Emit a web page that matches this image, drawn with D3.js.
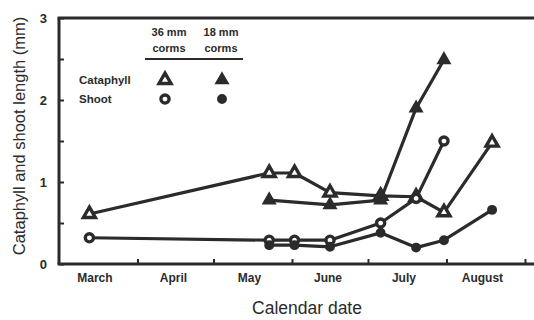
<!DOCTYPE html>
<html>
<head>
<meta charset="utf-8">
<script src="https://cdn.jsdelivr.net/npm/d3@7"></script>
<style>
  body { margin: 0; background: #fff; }
  svg { display: block; font-family: "Liberation Sans", Arial, sans-serif; }
  .tick text { font-weight: bold; fill: #2b2b2b; }
</style>
</head>
<body>
<script>
// Chart Params
var svgWidth = 534;
var svgHeight = 320;

var margin = { top: 18, right: 0, bottom: 56, left: 59 };

var width = svgWidth - margin.left - margin.right;
var height = svgHeight - margin.top - margin.bottom;

var ink = "#2b2b2b";

// sampling dates (same year for every series)
var dates = ["2001-03-13", "2001-05-23", "2001-06-02", "2001-06-16", "2001-07-06", "2001-07-20", "2001-07-31", "2001-08-19"];

// lengths (mm), null = not sampled
var cataphyll36 = [0.61, 1.11, 1.11, 0.87, 0.83, 0.82, 0.63, 1.48];
var cataphyll18 = [null, 0.78, null, 0.72, 0.78, 1.90, 2.49, null];
var shoot36 = [0.32, 0.29, 0.29, 0.29, 0.50, 0.80, 1.50, null];
var shoot18 = [null, 0.23, 0.23, 0.21, 0.38, 0.20, 0.29, 0.66];

// axis labels
var monthLabels = ["March", "April", "May", "June", "July", "August"];
var yTickLabels = [0, 1, 2, 3];

var parse = d3.timeParse("%Y-%m-%d");

var series = [
  { name: "Cataphyll 36", values: cataphyll36, shape: "triangle", open: true },
  { name: "Cataphyll 18", values: cataphyll18, shape: "triangle", open: false },
  { name: "Shoot 36", values: shoot36, shape: "circle", open: true },
  { name: "Shoot 18", values: shoot18, shape: "circle", open: false }
];

var svg = d3
  .select("body")
  .append("svg")
  .attr("width", svgWidth)
  .attr("height", svgHeight);

var chartGroup = svg.append("g")
  .attr("transform", `translate(${margin.left}, ${margin.top})`);

// scales
var xScale = d3.scaleTime()
  .domain([new Date(2001, 2, 1), new Date(2001, 8, 1)])
  .range([0, 466]);

var yScale = d3.scaleLinear()
  .domain([0, 3])
  .range([height, 0]);

// frame lines: left, top, bottom
chartGroup.append("line")
  .attr("x1", 0).attr("x2", 0).attr("y1", 0).attr("y2", height)
  .attr("stroke", ink).attr("stroke-width", 3);
chartGroup.append("line")
  .attr("x1", -1.5).attr("x2", width).attr("y1", 0).attr("y2", 0)
  .attr("stroke", ink).attr("stroke-width", 3);
chartGroup.append("line")
  .attr("x1", -1.5).attr("x2", width).attr("y1", height).attr("y2", height)
  .attr("stroke", ink).attr("stroke-width", 3);

// x axis: ticks at month starts, labels mid month
var xAxis = d3.axisBottom(xScale)
  .ticks(d3.timeMonth.every(1))
  .tickSizeInner(-5)
  .tickSizeOuter(0)
  .tickFormat("");

var xg = chartGroup.append("g")
  .attr("transform", `translate(0, ${height})`)
  .call(xAxis);
xg.select(".domain").remove();
xg.selectAll(".tick line").attr("stroke", ink).attr("stroke-width", 2);
xg.selectAll(".tick").filter(d => d.getMonth() === 2).remove();

var xLabelAxis = d3.axisBottom(xScale)
  .tickValues(monthLabels.map((m, i) => new Date(2001, 2 + i, 15)))
  .tickSize(0)
  .tickPadding(9)
  .tickFormat((d, i) => monthLabels[i]);

var xl = chartGroup.append("g")
  .attr("transform", `translate(0, ${height})`)
  .call(xLabelAxis);
xl.select(".domain").remove();
xl.selectAll("text").attr("font-size", 12);

// y axis: minor ticks every 0.5, labels on whole numbers
var yAxis = d3.axisLeft(yScale)
  .tickValues(d3.range(0, 3.01, 0.5))
  .tickSizeInner(-5)
  .tickSizeOuter(0)
  .tickPadding(12)
  .tickFormat(d => yTickLabels.indexOf(d) >= 0 ? d : "");

var yg = chartGroup.append("g").call(yAxis);
yg.select(".domain").remove();
yg.selectAll(".tick line").attr("stroke", ink).attr("stroke-width", 2);
yg.selectAll("text").attr("font-size", 13);

// lines
var line = d3.line()
  .x(d => xScale(d.date))
  .y(d => yScale(d.v));

series.forEach(function(s) {
  var pts = s.values.map((v, i) => ({ date: parse(dates[i]), v: v }))
    .filter(d => d.v !== null);
  s.pts = pts;
  chartGroup.append("path")
    .datum(pts)
    .attr("d", line)
    .attr("fill", "none")
    .attr("stroke", ink)
    .attr("stroke-width", 3.2)
    .attr("stroke-linejoin", "round");
});

// markers
function drawMarker(g, shape, open) {
  var sym = shape === "triangle" ? d3.symbolTriangle : d3.symbolCircle;
  g.append("path")
    .attr("d", d3.symbol().type(sym).size(shape === "triangle" ? 62 : 52))
    .attr("fill", open ? "#fff" : ink)
    .attr("stroke", ink)
    .attr("stroke-width", open ? 3.4 : 1.8);
}

series.forEach(function(s) {
  chartGroup.selectAll(null)
    .data(s.pts)
    .enter()
    .append("g")
    .attr("transform", d => `translate(${xScale(d.date)}, ${yScale(d.v)})`)
    .each(function() { drawMarker(d3.select(this), s.shape, s.open); });
});

// legend
var legend = svg.append("g");
var colX = [169, 221];
var markX = [165, 222];
var headTop = ["36 mm", "18 mm"];
colX.forEach(function(x, i) {
  legend.append("text").attr("x", x).attr("y", 36)
    .attr("text-anchor", "middle").attr("font-size", 11).attr("font-weight", "bold")
    .attr("fill", ink).text(headTop[i]);
  legend.append("text").attr("x", x).attr("y", 52)
    .attr("text-anchor", "middle").attr("font-size", 11).attr("font-weight", "bold")
    .attr("fill", ink).text("corms");
});
legend.append("line")
  .attr("x1", 145).attr("x2", 243).attr("y1", 59).attr("y2", 59)
  .attr("stroke", ink).attr("stroke-width", 2);

var rows = [
  { label: "Cataphyll", y: 80, items: [series[0], series[1]] },
  { label: "Shoot", y: 99, items: [series[2], series[3]] }
];
rows.forEach(function(r) {
  legend.append("text").attr("x", 79).attr("y", r.y + 4)
    .attr("font-size", 11.5).attr("font-weight", "bold")
    .attr("fill", ink).text(r.label);
  r.items.forEach(function(s, i) {
    var g = legend.append("g").attr("transform", `translate(${markX[i]}, ${r.y})`);
    drawMarker(g, s.shape, s.open);
  });
});

// axis labels
svg.append("text")
  .attr("x", 307)
  .attr("y", 314)
  .attr("text-anchor", "middle")
  .attr("font-size", 17.5)
  .attr("fill", ink)
  .text("Calendar date");

svg.append("text")
  .attr("transform", `translate(25, 136) rotate(270)`)
  .attr("text-anchor", "middle")
  .attr("font-size", 16.5)
  .attr("fill", ink)
  .text("Cataphyll and shoot length (mm)");
</script>
</body>
</html>
